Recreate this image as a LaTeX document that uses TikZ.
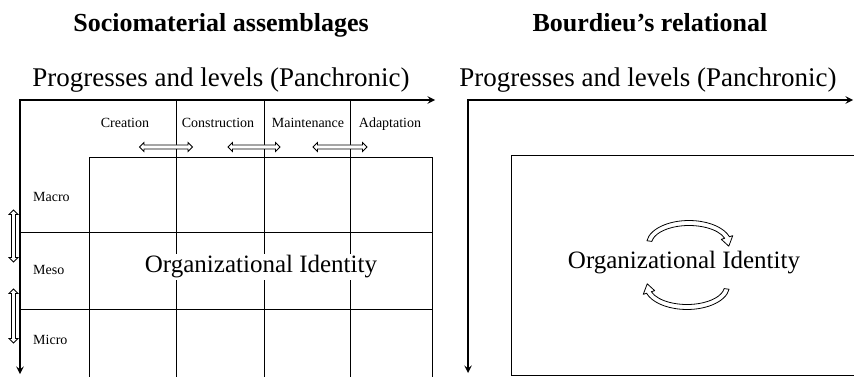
\documentclass[tikz,border=0pt]{standalone}
\usepackage{fontspec}
\setmainfont{Liberation Serif}
\usetikzlibrary{arrows, shapes.arrows, positioning}
\tikzstyle{axisline} = [line width=2.2pt,<->,>=stealth]
\tikzstyle{gridline} = [line width=1pt]
\tikzstyle{heading} = [font=\bfseries\fontsize{26}{26}\selectfont]
\tikzstyle{axislabel} = [font=\fontsize{27}{27}\selectfont]
\tikzstyle{phase} = [font=\fontsize{14}{14}\selectfont, inner sep=0pt, text height=1.5ex, text depth=.3ex]
\tikzstyle{level} = [font=\fontsize{14}{14}\selectfont, anchor=west, inner sep=0pt]
\tikzstyle{identity} = [font=\fontsize{25}{25}\selectfont, fill=white, inner sep=2pt]
\tikzstyle{twoway} = [double arrow, draw, fill=white, line width=0.8pt, inner sep=1.6pt,
    double arrow head extend=2.5pt, double arrow head indent=0pt]
\tikzstyle{hollowarc} = [draw, fill=white, line width=0.8pt, line join=round]

\begin{document}
\begin{tikzpicture}[x=1pt, y=1pt]
    \useasboundingbox (0,0) rectangle (854,-377);

    % left panel: sociomaterial assemblages
    \node[heading] (titleL) at (221,-25) {Sociomaterial assemblages};
    \node[axislabel] (axisL) at (221,-80) {Progresses and levels (Panchronic)};
    \coordinate (oL) at (20,-100);
    \coordinate (xL) at (435,-100);
    \coordinate (yL) at (20,-374);

    \foreach \y in {232,309}
        \draw[gridline] (20,-\y) -- (432,-\y);
    \foreach \x in {176,264,350}
        \draw[gridline] (\x,-100) -- (\x,-377);
    \draw[gridline] (89,-377) |- (432,-158) -- (432,-377);

    \node[phase] (creation) at (125,-125) {Creation};
    \node[phase] (construction) at (218,-125) {Construction};
    \node[phase] (maintenance) at (308,-125) {Maintenance};
    \node[phase] (adaptation) at (390,-125) {Adaptation};

    \node[twoway, minimum height=53pt] (shift1) at (166,-147) {};
    \node[twoway, minimum height=52pt] (shift2) at (254,-147) {};
    \node[twoway, minimum height=54pt] (shift3) at (340,-147) {};

    \node[level] (macro) at (33,-197) {Macro};
    \node[level] (meso) at (33,-270) {Meso};
    \node[level] (micro) at (33,-340) {Micro};

    \node[twoway, rotate=90, minimum height=52pt] (scale1) at (13.5,-236) {};
    \node[twoway, rotate=90, minimum height=54pt] (scale2) at (13.5,-316) {};

    \node[identity] (identL) at (261,-267) {Organizational Identity};
    \draw[axisline] (xL) -- (oL) -- (yL);

    % right panel: Bourdieu's relational view
    \node[heading] (titleR) at (650,-23) {Bourdieu’s relational};
    \node[axislabel] (axisR) at (648,-80) {Progresses and levels (Panchronic)};
    \coordinate (oR) at (468,-100);
    \coordinate (xR) at (853,-100);
    \coordinate (yR) at (468,-373);
    \draw[axisline] (xR) -- (oR) -- (yR);
    \draw[gridline] (854,-156) -| (511,-375) -- (854,-375);

    \node[identity] (identR) at (684,-263) {Organizational Identity};
    \foreach \turn in {0,180}
        \draw[hollowarc, shift={(688,-265)}, rotate=\turn, shift={(1,21)}]
            (172:42.5 and 23.5) arc[start angle=172, end angle=18, x radius=42.5, y radius=23.5]
            -- (18:46 and 27) -- (-6:40 and 21) -- (18:34 and 15) -- (18:37.5 and 18.5)
            arc[start angle=18, end angle=172, x radius=37.5, y radius=18.5] -- cycle;
\end{tikzpicture}
\end{document}
